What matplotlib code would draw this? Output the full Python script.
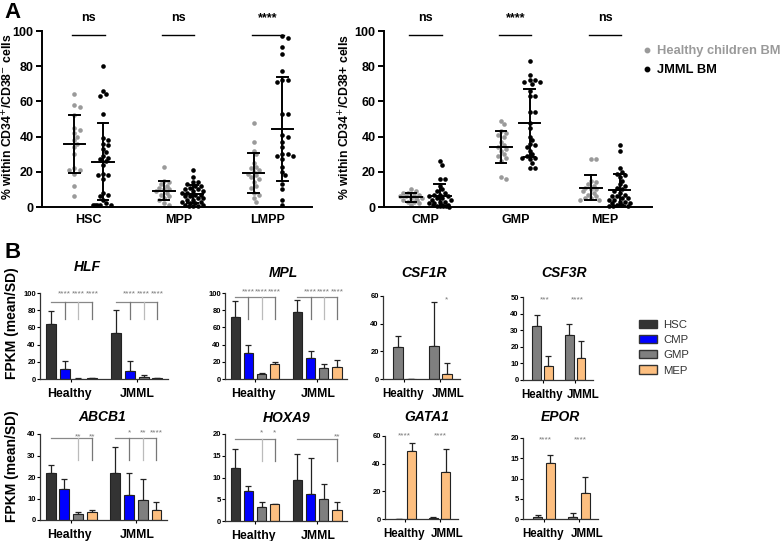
import numpy as np
import matplotlib
matplotlib.use("Agg")
import matplotlib.pyplot as plt
from matplotlib.lines import Line2D
from matplotlib.patches import Patch

plt.rcParams['font.family'] = ['Liberation Sans', 'DejaVu Sans']

W, H = 783, 541
fig = plt.figure(figsize=(W / 100, H / 100), dpi=100)

def add_ax(x0, y0, x1, y1):
    return fig.add_axes([x0 / W, 1 - y1 / H, (x1 - x0) / W, (y1 - y0) / H])

# ---------------- Panel A data ----------------
cats_left = ["HSC", "MPP", "LMPP"]
cats_right = ["CMP", "GMP", "MEP"]
sig_left = ["ns", "ns", "****"]
sig_right = ["ns", "****", "ns"]

hsc_healthy = [64, 58, 57, 52, 45, 44, 42, 40, 38, 36, 34, 30, 22, 21, 21, 19, 12, 6]
hsc_jmml = [80, 66, 64, 63, 53, 39, 38, 36, 35, 33, 31, 29, 28, 27, 24, 26, 19, 18, 16, 18,
            8, 7, 6, 4, 2, 1, 1, 1, 1, 1]
mpp_healthy = [23, 15, 14, 13, 12, 11, 10, 10, 9, 8, 7, 6, 5, 4, 2, 1]
mpp_jmml = [21, 17, 14, 14, 13, 12, 12, 11, 10, 10, 9, 9, 8, 8, 7, 7, 6, 6, 5, 5, 4, 4,
            3, 3, 2, 2, 1, 1, 0.5, 0.5, 0.3]
lmpp_healthy = [48, 37, 32, 30, 25, 23, 22, 21, 20, 19, 18, 17, 16, 14, 12, 11, 8, 7, 5, 3]
lmpp_jmml = [97, 96, 91, 87, 77, 72, 72, 71, 53, 53, 41, 40, 37, 34, 30, 30, 29, 29, 27, 23,
             20, 18, 13, 10, 4, 1]
cmp_healthy = [10, 9, 8, 8, 7, 7, 6, 6, 5, 5, 5, 4, 4, 3, 3, 2, 1]
cmp_jmml = [26, 24, 16, 16, 12, 10, 9, 8, 7, 7, 6, 6, 5, 5, 4, 4, 3, 3, 2, 2, 1, 1, 1,
            0.5, 0.5, 0.5, 0.3, 0.2]
gmp_healthy = [49, 47, 43, 42, 41, 40, 37, 35, 34, 33, 32, 30, 29, 28, 26, 17, 16]
gmp_jmml = [83, 75, 72, 72, 71, 71, 70, 66, 63, 63, 54, 54, 48, 45, 40, 38, 36, 35, 34, 32,
            30, 29, 28, 28, 27, 25, 22, 22]
mep_healthy = [27, 27, 15, 14, 13, 12, 11, 10, 10, 9, 8, 7, 6, 5, 5, 4, 4]
mep_jmml = [35, 32, 22, 20, 19, 18, 17, 15, 13, 12, 11, 10, 9, 8, 7, 6, 6, 5, 5, 4, 4, 3,
            3, 2, 2, 1, 1, 0.5, 0.5, 0.3]

left_groups = [(hsc_healthy, hsc_jmml), (mpp_healthy, mpp_jmml), (lmpp_healthy, lmpp_jmml)]
right_groups = [(cmp_healthy, cmp_jmml), (gmp_healthy, gmp_jmml), (mep_healthy, mep_jmml)]

HEALTHY_C = "#9a9a9a"
JMML_C = "#000000"

def swarm_offsets(vals, px_per_y, px_per_x, d=3.6, maxw=13):
    vals = np.asarray(vals, float)
    order = np.argsort(-vals)
    placed = []
    offs = np.zeros(len(vals))
    cand = [0]
    for k in range(1, 12):
        cand += [k, -k]
    for idx in order:
        y = vals[idx] * px_per_y
        chosen = None
        for k in cand:
            x = k * d * 0.75
            if abs(x) > maxw:
                continue
            if all((x - px) ** 2 + (y - py) ** 2 >= d ** 2 for px, py in placed):
                chosen = x
                break
        if chosen is None:
            chosen = (len(placed) % 7 - 3) * d * 0.9
        placed.append((chosen, y))
        offs[idx] = chosen / px_per_x
    return offs

def panel_a(ax, groups, cats, sigs):
    px_x = 90.0
    px_y = 176 / 100
    for i, (hv, jv) in enumerate(groups):
        for vals, dx, col in [(hv, -0.16, HEALTHY_C), (jv, 0.16, JMML_C)]:
            vals = np.asarray(vals, float)
            off = swarm_offsets(vals, px_y, px_x)
            ax.scatter(i + dx + off, vals, s=11, color=col, linewidths=0, zorder=2, clip_on=False)
            m, sd = vals.mean(), vals.std(ddof=1)
            ax.plot([i + dx - 0.12, i + dx + 0.12], [m, m], color="black", lw=1.4, zorder=3)
            ax.plot([i + dx, i + dx], [max(m - sd, 0), m + sd], color="black", lw=1.4, zorder=3)
            for yy in (max(m - sd, 0), m + sd):
                ax.plot([i + dx - 0.06, i + dx + 0.06], [yy, yy], color="black", lw=1.4, zorder=3)
        ax.plot([i - 0.18, i + 0.18], [98, 98], color="black", lw=1.0, clip_on=False)
        ax.text(i, 104, sigs[i], ha="center", va="bottom", fontsize=9, fontweight="bold",
                clip_on=False)
    ax.set_ylim(0, 100)
    ax.set_yticks([0, 20, 40, 60, 80, 100])
    ax.set_xticks(range(3))
    ax.set_xticklabels(cats, fontsize=9, fontweight="bold")
    ax.tick_params(axis="x", length=0, pad=5)
    ax.tick_params(axis="y", labelsize=9, width=1.4, length=4, pad=2)
    for lab in ax.get_yticklabels():
        lab.set_fontweight("bold")
    for s in ["top", "right"]:
        ax.spines[s].set_visible(False)
    for s in ["left", "bottom"]:
        ax.spines[s].set_linewidth(1.4)

axL = add_ax(42, 31, 312, 207)
axL.set_xlim(-0.52, 2.49)
panel_a(axL, left_groups, cats_left, sig_left)
axR = add_ax(384, 31, 652, 207)
axR.set_xlim(-0.46, 2.52)
panel_a(axR, right_groups, cats_right, sig_right)

fig.text(8 / W, 1 - 117 / H, r"% within CD34$^{+}$/CD38$^{-}$ cells", rotation=90,
         ha="center", va="center", fontsize=8.8, fontweight="bold")
fig.text(345 / W, 1 - 117 / H, r"% within CD34$^{+}$/CD38+ cells", rotation=90,
         ha="center", va="center", fontsize=8.8, fontweight="bold")

leg_handles = [Line2D([], [], marker="o", ls="none", color=HEALTHY_C, markersize=3.2),
               Line2D([], [], marker="o", ls="none", color=JMML_C, markersize=3.2)]
fig.legend(leg_handles, ["Healthy children BM", "JMML BM"], loc="upper left",
           bbox_to_anchor=(643 / W, 1 - 45 / H), frameon=False, handlelength=0.6,
           handletextpad=0.5, labelspacing=0.55, borderaxespad=0, borderpad=0,
           prop={"weight": "bold", "size": 9.3}, labelcolor=[HEALTHY_C, "black"])

fig.text(4 / W, 1 - 12 / H, "A", fontsize=16, fontweight="bold", ha="left", va="center")
fig.text(4 / W, 1 - 253 / H, "B", fontsize=16, fontweight="bold", ha="left", va="center")

# ---------------- Panel B data ----------------
pop4 = ["HSC", "CMP", "GMP", "MEP"]
pop2 = ["GMP", "MEP"]
group_names = ["Healthy", "JMML"]
COLORS = {"HSC": "#333333", "CMP": "#0000ff", "GMP": "#7f7f7f", "MEP": "#fdbf80"}

hlf_mean = [[64, 12, 0.5, 1.0], [53, 9, 2.5, 1.0]]
hlf_sd = [[15, 9, 0.3, 0.6], [27, 12, 2.5, 0.5]]
mpl_mean = [[72, 30, 6, 17], [77.5, 24, 12.4, 13.6]]
mpl_sd = [[19, 10, 1, 2.5], [14, 9, 5.6, 8]]
csf1r_mean = [[22.8, 0.2], [23.5, 3.8]]
csf1r_sd = [[8.2, 0.1], [32.4, 7.5]]
csf3r_mean = [[32.4, 8.6], [27.4, 13.4]]
csf3r_sd = [[6.6, 5.8], [6.2, 10.0]]
abcb1_mean = [[22, 14.5, 3.0, 3.9], [21.8, 11.7, 9.1, 4.5]]
abcb1_sd = [[3.6, 4.5, 0.7, 0.9], [12.2, 10.1, 9.9, 3.7]]
hoxa9_mean = [[12.1, 6.8, 3.2, 3.8], [9.5, 6.2, 5.0, 2.5]]
hoxa9_sd = [[4.4, 1.2, 1.2, 0.2], [6.0, 8.3, 3.4, 1.8]]
gata1_mean = [[0.1, 49.3], [0.8, 34.0]]
gata1_sd = [[0.1, 5.7], [0.3, 16.7]]
epor_mean = [[0.6, 13.8], [0.6, 6.3]]
epor_sd = [[0.4, 2.1], [0.9, 4.1]]

def bar_panel(ax, title, title_xy, pops, means, sds, ylim, yticks, gap, xlim, brackets=None,
              stars=None):
    n = len(pops)
    centers = []
    for g in range(2):
        x0 = g * gap
        xs = x0 + np.arange(n)
        centers.append(x0 + (n - 1) / 2)
        cols = [COLORS[p] for p in pops]
        ax.bar(xs, means[g], width=0.72, color=cols, edgecolor="#222222", linewidth=0.8,
               zorder=2)
        ax.errorbar(xs, means[g], yerr=[np.zeros(n), sds[g]], fmt="none", ecolor="#222222",
                    elinewidth=0.9, capsize=2.2, capthick=0.9, zorder=1)
    ax.set_xlim(*xlim)
    ax.set_ylim(*ylim)
    ax.set_yticks(yticks)
    ax.tick_params(axis="y", labelsize=5.5, length=2, width=0.8, pad=1)
    for lab in ax.get_yticklabels():
        lab.set_fontweight("bold")
    ax.set_xticks(centers)
    ax.set_xticklabels([])
    ax.tick_params(axis="x", length=2, width=0.8)
    if n == 2:
        label_dx = [-1, 8]
        fs = 8.3
    else:
        label_dx = [-2, 1]
        fs = 8.8
    for c, name, ddx in zip(centers, group_names, label_dx):
        ax.annotate(name, xy=(c, 0), xycoords=("data", "axes fraction"),
                    xytext=(ddx * 0.72, -11), textcoords="offset points", ha="center",
                    va="center", fontsize=fs, fontweight="bold")
    for s in ["top", "right"]:
        ax.spines[s].set_visible(False)
    for s in ["left", "bottom"]:
        ax.spines[s].set_linewidth(0.9)
        ax.spines[s].set_color("#333333")
    fig.text(title_xy[0] / W, 1 - title_xy[1] / H, title, fontsize=10, fontweight="bold",
             fontstyle="italic", ha="center", va="center")
    drop_cols = {1: "#777777", 2: "#bbbbbb", 3: "#777777"}
    if brackets:
        for g, (top, bottom, drops, labels, sy) in enumerate(brackets):
            x0 = g * gap
            ax.plot([x0, x0 + 3], [top, top], color="#888888", lw=0.9, clip_on=False, zorder=3)
            for d, lab in zip(drops, labels):
                ax.plot([x0 + d, x0 + d], [top, bottom], color=drop_cols[d], lw=0.9,
                        clip_on=False, zorder=3)
                ax.text(x0 + d, sy, lab, ha="center", va="center", fontsize=6, color="#777777",
                        clip_on=False)
    if stars:
        for g, (lab, xo, sy) in enumerate(stars):
            if lab:
                ax.text(g * gap + xo, sy, lab, ha="center", va="center", fontsize=6,
                        color="#777777", clip_on=False)

xlim4 = (-0.78, 8.5)
gap4 = 4.73
xlim2 = (-1.15, 4.77)
gap2 = 2.77

ax = add_ax(40, 293, 168, 379)
bar_panel(ax, "HLF", (87, 267), pop4, hlf_mean, hlf_sd, (0, 100), [0, 20, 40, 60, 80, 100],
          gap4, xlim4,
          brackets=[(90, 70, [1, 2, 3], ["****"] * 3, 99), (90, 70, [1, 2, 3], ["****"] * 3, 99)])
ax = add_ax(225, 293, 347, 379)
bar_panel(ax, "MPL", (283, 273), pop4, mpl_mean, mpl_sd, (0, 100), [0, 20, 40, 60, 80, 100],
          gap4, xlim4,
          brackets=[(95, 70, [1, 2, 3], ["****"] * 3, 101), (95, 70, [1, 2, 3], ["****"] * 3, 101)])
ax = add_ax(383, 296, 460, 379)
bar_panel(ax, "CSF1R", (424, 273), pop2, csf1r_mean, csf1r_sd, (0, 60), [0, 20, 40, 60],
          gap2, xlim2, stars=[("", 0, 0), ("*", 1.0, 57)])
ax = add_ax(523, 297, 593, 380)
bar_panel(ax, "CSF3R", (564, 273), pop2, csf3r_mean, csf3r_sd, (0, 50),
          [0, 10, 20, 30, 40, 50], gap2, xlim2,
          stars=[("***", 0.7, 48), ("****", 0.7, 48)])

ax = add_ax(40, 434, 167, 520)
bar_panel(ax, "ABCB1", (102, 417), pop4, abcb1_mean, abcb1_sd, (0, 40), [0, 10, 20, 30, 40],
          gap4, xlim4,
          brackets=[(38, 28, [2, 3], ["**", "**"], 38.5),
                    (38, 28, [1, 2, 3], ["*", "**", "****"], 40.5)])
ax = add_ax(225, 434, 347, 521)
bar_panel(ax, "HOXA9", (287, 418), pop4, hoxa9_mean, hoxa9_sd, (0, 20), [0, 5, 10, 15, 20],
          gap4, xlim4,
          brackets=[(18.9, 13.8, [2, 3], ["*", "*"], 20.2), (18.9, 13.8, [3], ["**"], 19.4)])
ax = add_ax(385, 436, 458, 519)
bar_panel(ax, "GATA1", (427, 417), pop2, gata1_mean, gata1_sd, (0, 60), [0, 20, 40, 60],
          gap2, xlim2, stars=[("****", 0.45, 60), ("****", 0.6, 60)])
ax = add_ax(523, 438, 598, 519)
bar_panel(ax, "EPOR", (560, 417), pop2, epor_mean, epor_sd, (0, 20), [0, 5, 10, 15, 20],
          gap2, xlim2, stars=[("****", 0.6, 19.5), ("****", 0.6, 19.5)])

fig.text(12 / W, 1 - 323 / H, "FPKM (mean/SD)", rotation=90, ha="center", va="center",
         fontsize=10, fontweight="bold")
fig.text(12 / W, 1 - 466 / H, "FPKM (mean/SD)", rotation=90, ha="center", va="center",
         fontsize=10, fontweight="bold")

handles = [Patch(facecolor=COLORS[p], edgecolor="#333333", linewidth=1.0) for p in pop4]
fig.legend(handles, pop4, loc="upper left", bbox_to_anchor=(639 / W, 1 - 320 / H),
           frameon=False, handlelength=1.55, handleheight=0.72, handletextpad=0.6,
           labelspacing=0.45, borderaxespad=0, borderpad=0, fontsize=8.2,
           labelcolor="#333333")

fig.savefig("out.png", dpi=100)
